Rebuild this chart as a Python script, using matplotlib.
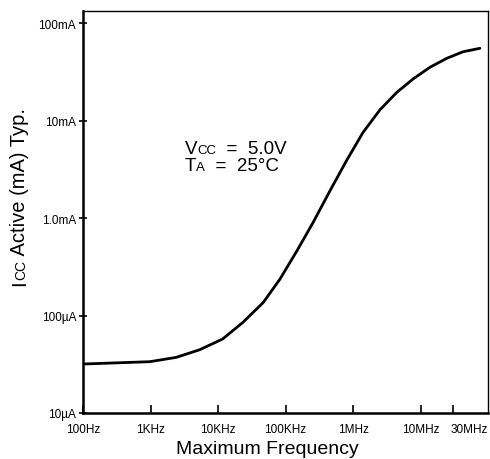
import matplotlib.pyplot as plt
from matplotlib.transforms import IdentityTransform, ScaledTranslation

plt.rcParams['font.family'] = ['Liberation Sans', 'DejaVu Sans']

# Valores (frequência em Hz, corrente em A)
freq_hz = [100, 977, 2.4e3, 5.37e3, 1.17e4, 2.34e4, 4.68e4, 8.3e4, 1.48e5,
           2.57e5, 4.57e5, 8.13e5, 1.41e6, 2.51e6, 4.47e6, 7.76e6, 1.38e7, 2.45e7,
           4.27e7, 7.59e7]
icc_a = [31.8e-6, 33.6e-6, 37.2e-6, 44.6e-6, 57.4e-6, 85.1e-6, 136e-6, 237e-6,
         462e-6, 903e-6, 1.91e-3, 3.95e-3, 7.57e-3, 12.9e-3, 19.5e-3, 26.7e-3,
         35.2e-3, 43.5e-3, 50.8e-3, 55.1e-3]

x_ticks = [1e2, 1e3, 1e4, 1e5, 1e6, 1e7, 3e7]
x_labels = ["100Hz", "1KHz", "10KHz", "100KHz", "1MHz", "10MHz", "30MHz"]
y_ticks = [1e-5, 1e-4, 1e-3, 1e-2, 1e-1]
y_labels = ["10\u00b5A", "100\u00b5A", "1.0mA", "10mA", "100mA"]

fig = plt.figure(figsize=(4.9, 4.6), dpi=100)
ax = fig.add_axes([83 / 490, 46 / 460, 405 / 490, 402 / 460])

ax.plot(freq_hz, icc_a, color="black", lw=2.0, solid_capstyle="round",
        solid_joinstyle="round")
ax.set_xscale("log")
ax.set_yscale("log")
ax.set_xlim(1e2, 1e8)
ax.set_ylim(1e-5, 0.133)

ax.minorticks_off()
ax.set_xticks(x_ticks)
ax.set_xticklabels(x_labels, fontsize=8.5)
ax.set_yticks(y_ticks)
ax.set_yticklabels(y_labels, fontsize=8.5)
ax.tick_params(axis="x", direction="in", length=6, width=1.2, pad=7)
ax.tick_params(axis="y", direction="inout", length=6, width=1.2, pad=2)

# rótulo 30MHz um pouco deslocado para a direita
lbl = ax.get_xticklabels()[-1]
lbl.set_transform(lbl.get_transform() + ScaledTranslation(12 / 72, 0, fig.dpi_scale_trans))

ax.spines["left"].set_linewidth(1.8)
ax.spines["bottom"].set_linewidth(1.8)
ax.spines["top"].set_linewidth(1.0)
ax.spines["right"].set_linewidth(1.0)

renderer = fig.canvas.get_renderer()


def texto_misto(x, y, partes, rotacao=0):
    # coloca pedaços de texto com tamanhos diferentes na mesma linha de base
    for s, tam in partes:
        t = fig.text(x, y, s, fontsize=tam, rotation=rotacao, rotation_mode="anchor",
                     ha="left", va="baseline", transform=IdentityTransform())
        bb = t.get_window_extent(renderer)
        if rotacao == 90:
            y += bb.height
        else:
            x += bb.width


# anotações (coordenadas em pixels, origem embaixo)
texto_misto(185, 460 - 154, [("V", 13.5), ("CC", 9.5), ("  =  5.0V", 13.5)])
texto_misto(185, 460 - 171, [("T", 13.5), ("A", 9.5), ("  =  25\u00b0C", 13.5)])
texto_misto(25, 460 - 286, [("I", 14.5), ("CC", 10), (" Active (mA) Typ.", 14.5)], rotacao=90)

fig.text(267 / 490, 6 / 460, "Maximum Frequency", fontsize=14, ha="center", va="baseline")

fig.savefig("out.png", dpi=100)
